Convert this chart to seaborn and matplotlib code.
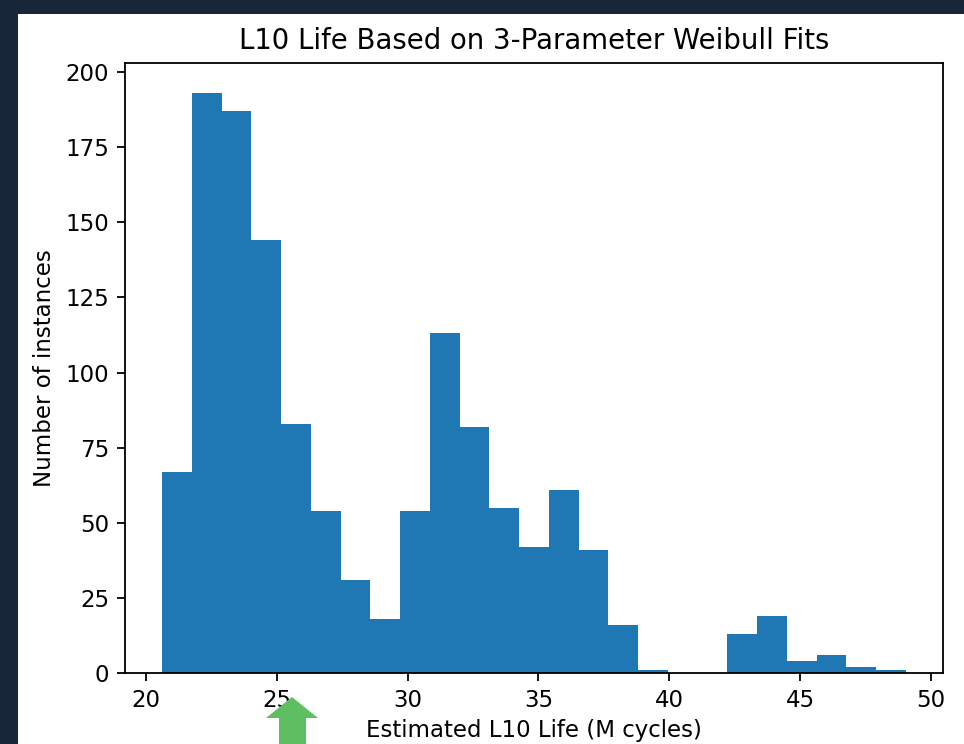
import matplotlib
matplotlib.use("Agg")
import matplotlib.pyplot as plt
import numpy as np
import pandas as pd
import seaborn as sns
from matplotlib.patches import Polygon, Rectangle

# ---------------------------------------------------------------------------
# Data
# ---------------------------------------------------------------------------
bin_start = 20.61
bin_end = 49.05
counts = [67, 193, 187, 144, 83, 54, 31, 18, 54, 113, 82, 55, 42,
          61, 41, 16, 1, 0, 0, 13, 19, 4, 6, 2, 1]

edges = np.linspace(bin_start, bin_end, len(counts) + 1)
df = pd.DataFrame({
    "life": (edges[:-1] + edges[1:]) / 2,
    "n": counts,
})

sns.set_style("ticks", rc={
    "text.color": "black",
    "axes.labelcolor": "black",
    "xtick.color": "black",
    "ytick.color": "black",
    "axes.edgecolor": "black",
})
plt.rcParams["font.family"] = ["DejaVu Sans"]

W, H = 964, 744
fig = plt.figure(figsize=(W / 100, H / 100), dpi=100, facecolor="#172638")

# white page area inside the dark frame
fig.patches.append(Rectangle((18 / W, 0), 1 - 18 / W, 1 - 14 / H,
                             transform=fig.transFigure, facecolor="white",
                             edgecolor="none", zorder=-10))

ax = fig.add_axes([125 / W, (H - 673) / H, (943 - 125) / W, (673 - 63) / H])
sns.histplot(data=df, x="life", weights="n", bins=edges.tolist(),
             color="#1f77b4", alpha=1, linewidth=0, ax=ax)

ax.set_xlim(19.19, 50.47)
ax.set_ylim(0, 203)
ax.set_xticks([20, 25, 30, 35, 40, 45, 50])
ax.set_yticks([0, 25, 50, 75, 100, 125, 150, 175, 200])
ax.tick_params(labelsize=16.5, length=5.8, width=1.3, pad=5.5)
for s in ax.spines.values():
    s.set_linewidth(1.3)

ax.set_title("L10 Life Based on 3-Parameter Weibull Fits", fontsize=19.8, pad=10)
ax.set_xlabel("Estimated L10 Life (M cycles)", fontsize=16.5, labelpad=5)
ax.set_ylabel("Number of instances", fontsize=16.5, labelpad=6.6)

# green arrow pointing up at the axis
arrow = [(292, 697), (318, 718), (306, 718), (306, 744),
         (279, 744), (279, 718), (266, 718)]
arrow = [(x / W, 1 - y / H) for x, y in arrow]
fig.patches.append(Polygon(arrow, closed=True, transform=fig.transFigure,
                           facecolor="#5ebf62", edgecolor="none", zorder=5))

fig.savefig("out.png", dpi=100, facecolor=fig.get_facecolor())
